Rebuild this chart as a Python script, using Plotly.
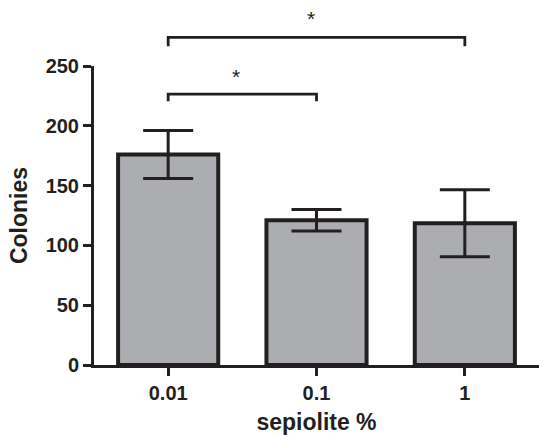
import plotly.graph_objects as go

categories = ["0.01", "0.1", "1"]
colonies = [176, 121, 118.5]
sem = [20, 9, 28]

# significance brackets: (from index, to index, bracket y, leg bottom y, star y)
brackets = [
    (0, 1, 226.5, 220.5, 241),
    (0, 2, 274, 266.5, 290),
]

Y_MAX = 250
DARK = "#231f20"
FONT = "Liberation Sans"

fig = go.Figure()
fig.add_trace(go.Bar(
    x=categories, y=colonies,
    width=0.675,
    marker=dict(color="#acadb0", line=dict(color=DARK, width=4)),
    error_y=dict(type="data", array=sem, visible=True, color=DARK,
                 thickness=3, width=25),
    showlegend=False,
))

shapes = []
annotations = []
for i0, i1, yb, yl, ys in brackets:
    shapes.append(dict(
        type="path", xref="x", yref="paper",
        path=f"M {i0},{yl / Y_MAX} L {i0},{yb / Y_MAX} L {i1},{yb / Y_MAX} L {i1},{yl / Y_MAX}",
        line=dict(color=DARK, width=2.8),
    ))
    annotations.append(dict(
        x=(i0 + i1) / 2 - 0.04, y=ys / Y_MAX, xref="x", yref="paper",
        text="*", showarrow=False, font=dict(family=FONT, size=21, color=DARK),
        yanchor="middle",
    ))

fig.update_layout(
    width=539, height=435,
    margin=dict(l=94, r=0, t=66, b=70),
    paper_bgcolor="white", plot_bgcolor="white",
    shapes=shapes, annotations=annotations,
    xaxis=dict(
        range=[-0.5, 2.5],
        showline=True, linecolor=DARK, linewidth=3,
        ticks="outside", ticklen=8, tickwidth=2.5, tickcolor=DARK,
        tickfont=dict(family=FONT, size=20, color=DARK, weight="bold"),
        showgrid=False, zeroline=False,
        title=dict(text="sepiolite %", standoff=14,
                   font=dict(family=FONT, size=23, color=DARK, weight="bold")),
    ),
    yaxis=dict(
        range=[0, Y_MAX], tickvals=[0, 50, 100, 150, 200, 250],
        showline=True, linecolor=DARK, linewidth=3,
        ticks="outside", ticklen=8, tickwidth=2.5, tickcolor=DARK,
        tickfont=dict(family=FONT, size=20, color=DARK, weight="bold"),
        showgrid=False, zeroline=False,
        title=dict(text="Colonies", standoff=12,
                   font=dict(family=FONT, size=23, color=DARK, weight="bold")),
    ),
)

fig.write_html("out.html",
               config={"displayModeBar": False},
               post_script="document.body.style.margin='0';document.body.style.overflow='hidden';")
